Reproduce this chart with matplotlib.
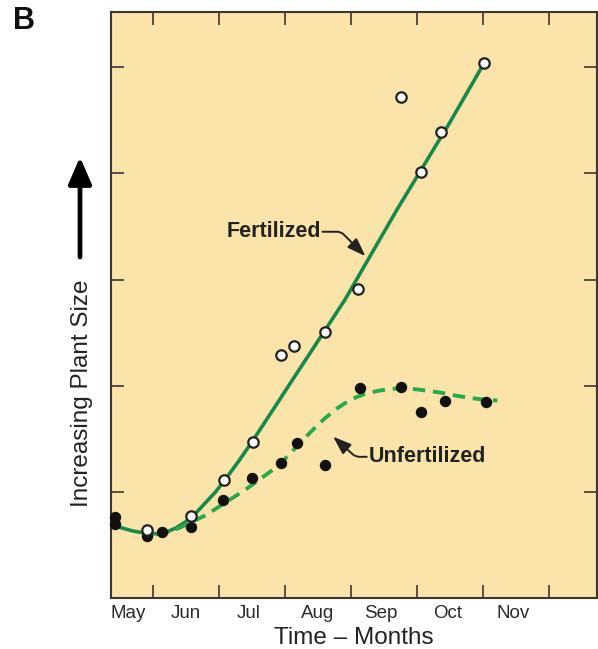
import matplotlib
matplotlib.use("Agg")
import matplotlib.pyplot as plt
import numpy as np

plt.rcParams['font.family'] = ['Liberation Sans', 'DejaVu Sans']

# ---- data (x in months, ticks at month boundaries; y in arbitrary size units) ----
months = ["May", "Jun", "Jul", "Aug", "Sep", "Oct", "Nov"]
month_label_pos = [0.62, 1.5, 2.45, 3.5, 4.46, 5.46, 6.46]
month_bounds = [1, 2, 3, 4, 5, 6, 7]
y_ticks = [1, 2, 3, 4, 5]

fert_x = [0.91, 1.58, 2.08, 2.52, 2.94, 3.14, 3.61, 4.11, 4.76, 5.07, 5.37, 6.02]
fert_y = [0.64, 0.77, 1.11, 1.47, 2.29, 2.37, 2.51, 2.91, 4.72, 4.01, 4.39, 5.04]

unf_x = [0.42, 0.42, 0.91, 1.14, 1.58, 2.06, 2.50, 2.94, 3.19, 3.61, 4.14, 4.76, 5.07, 5.43, 6.05]
unf_y = [0.76, 0.70, 0.58, 0.62, 0.67, 0.92, 1.13, 1.27, 1.46, 1.25, 1.98, 1.99, 1.75, 1.86, 1.85]

fert_curve_x = [0.364, 0.5, 0.7, 0.9, 1.05, 1.2, 1.35, 1.5, 1.65, 1.8, 1.95, 2.1, 2.3, 2.5,
                2.7, 2.9, 3.12, 3.5, 3.91, 4.3, 4.70, 5.1, 5.5, 6.02]
fert_curve_y = [0.70, 0.665, 0.63, 0.61, 0.605, 0.62, 0.66, 0.72, 0.80, 0.90, 1.00, 1.12, 1.29, 1.47,
                1.66, 1.85, 2.06, 2.42, 2.81, 3.23, 3.66, 4.07, 4.48, 5.04]

unf_curve_x = [1.05, 1.2, 1.4, 1.6, 1.8, 2.0, 2.2, 2.4, 2.6, 2.8, 3.0, 3.2, 3.4, 3.6, 3.8,
               4.0, 4.2, 4.4, 4.6, 4.8, 5.0, 5.2, 5.4, 5.6, 5.8, 6.0, 6.22]
unf_curve_y = [0.60, 0.615, 0.66, 0.72, 0.78, 0.86, 0.94, 1.02, 1.11, 1.20, 1.31, 1.44, 1.57, 1.69, 1.79,
               1.87, 1.92, 1.95, 1.97, 1.975, 1.965, 1.95, 1.93, 1.905, 1.885, 1.87, 1.86]

BG = '#fbe4a9'
SPINE = '#3d3535'
GREEN_SOLID = '#17894a'
GREEN_DASH = '#2aa84b'

fig = plt.figure(figsize=(5.98, 6.49), dpi=100)
fig.patch.set_facecolor('white')
ax = fig.add_axes([111/598, 1 - 598/649, 486/598, 586/649])
ax.set_facecolor(BG)
ax.set_xlim(0.364, 7.73)
ax.set_ylim(0.0, 5.52)

ax.plot(fert_curve_x, fert_curve_y, color=GREEN_SOLID, lw=2.6, solid_joinstyle='round', zorder=2)
ax.plot(unf_curve_x, unf_curve_y, color=GREEN_DASH, lw=2.8, dashes=(3.2, 2.0), zorder=2)

ax.plot(unf_x, unf_y, 'o', ms=7.2, color='#111111', mec='#111111', zorder=3, clip_on=False)
ax.plot(fert_x, fert_y, 'o', ms=7.5, mfc='white', mec='#222222', mew=1.6, zorder=4)

for s in ax.spines.values():
    s.set_color(SPINE)
    s.set_linewidth(1.5)

ax.set_xticks(month_bounds)
ax.set_yticks(y_ticks)
ax.tick_params(which='major', direction='in', length=9.5, width=1.2, color=SPINE,
               top=True, right=True, labelbottom=False, labelleft=False)
ax.set_xticks(month_label_pos, minor=True)
ax.set_xticklabels(months, minor=True, fontsize=13.5, color='#2a2a2a')
ax.tick_params(which='minor', length=0, pad=5)

ax.set_xlabel("Time \u2013 Months", fontsize=17.5, color='#222222', labelpad=4)

ax.text(-0.06, 0.35, "Increasing Plant Size", transform=ax.transAxes, rotation=90,
        ha='center', va='center', fontsize=17.5, color='#222222')

ax.annotate('', xy=(80/598, 1 - 157/649), xytext=(80/598, 1 - 257/649),
            xycoords='figure fraction', textcoords='figure fraction',
            arrowprops=dict(arrowstyle='-|>,head_length=0.65,head_width=0.28',
                            lw=3.4, color='black', mutation_scale=25, shrinkA=0, shrinkB=0))

fig.text(13/598, 1 - 21/649, "B", fontsize=22, fontweight='bold', ha='left', va='center',
         color='#111111')

# annotations
ax.text(3.55, 3.45, "Fertilized", fontsize=15.5, fontweight='bold', ha='right', va='center',
        color='#222222')
ax.annotate('', xy=(4.22, 3.22), xytext=(3.57, 3.45),
            arrowprops=dict(arrowstyle='-|>,head_length=0.7,head_width=0.25', lw=1.4,
                            color='#222222', mutation_scale=16, shrinkA=0, shrinkB=0,
                            connectionstyle='angle,angleA=0,angleB=135,rad=4'))

ax.text(4.27, 1.33, "Unfertilized", fontsize=15.5, fontweight='bold', ha='left', va='center',
        color='#222222')
ax.annotate('', xy=(3.73, 1.52), xytext=(4.24, 1.33),
            arrowprops=dict(arrowstyle='-|>,head_length=0.7,head_width=0.25', lw=1.4,
                            color='#222222', mutation_scale=16, shrinkA=0, shrinkB=0,
                            connectionstyle='angle,angleA=180,angleB=-42,rad=4'))

fig.savefig('out.png', dpi=100)
